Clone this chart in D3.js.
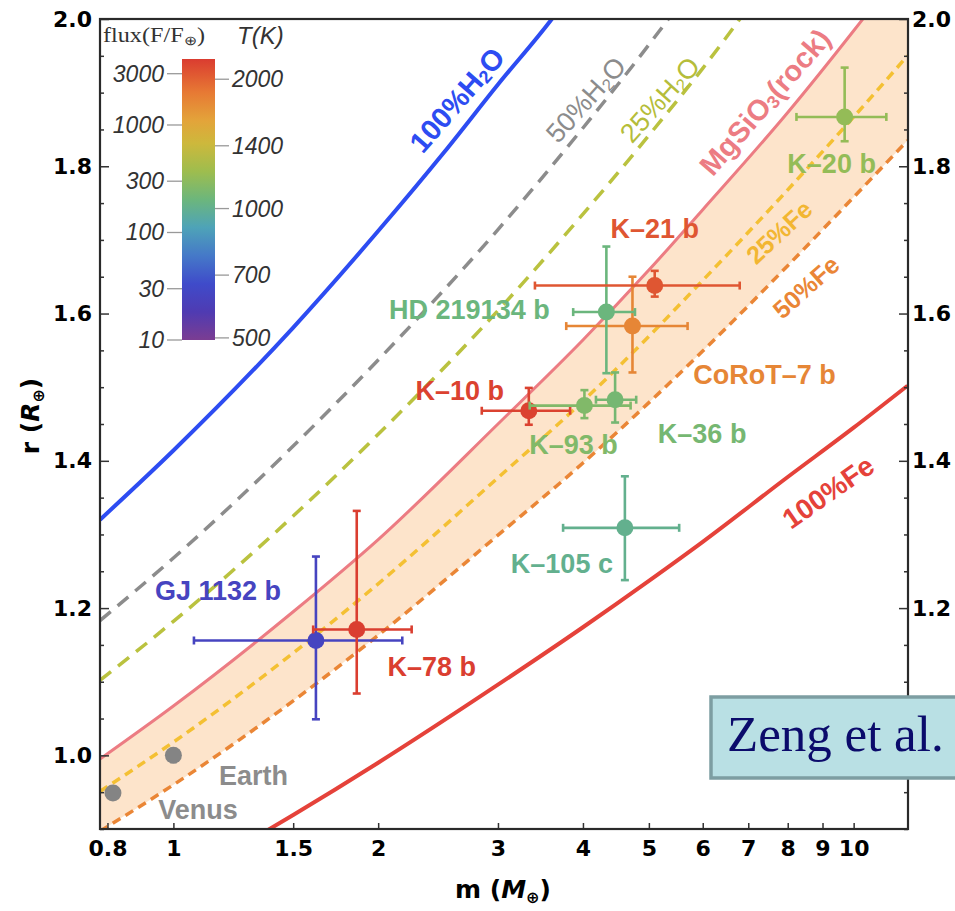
<!DOCTYPE html>
<html>
<head>
<meta charset="utf-8">
<script src="https://cdn.jsdelivr.net/npm/d3@7"></script>
<style>
  body { margin: 0; background: #fff; }
  svg { display: block; }
</style>
</head>
<body>
<div id="chart"></div>
<script>
// ---- values ----

// axis ticks
const massTicks = [0.8, 1, 1.5, 2, 3, 4, 5, 6, 7, 8, 9, 10];
const radiusTicks = [1.0, 1.2, 1.4, 1.6, 1.8, 2.0];

// model curves (mass in Earth masses, radius in Earth radii)
const gridMass = [0.78, 1, 1.5, 2, 3, 4, 5, 6, 8, 10, 12];
const rockR  = [0.995, 1.067, 1.195, 1.293, 1.450, 1.564, 1.659, 1.741, 1.873, 1.984, 2.079];
const fe25R  = [0.951, 1.018, 1.139, 1.233, 1.377, 1.481, 1.569, 1.645, 1.768, 1.867, 1.950];
const fe50R  = [0.897, 0.960, 1.074, 1.163, 1.299, 1.397, 1.479, 1.549, 1.665, 1.758, 1.835];
const fe100Mass = [1.3, 1.5, 2, 3, 4, 5, 6, 8, 10, 12];
const fe100R    = [0.885, 0.919, 0.990, 1.096, 1.174, 1.237, 1.290, 1.378, 1.445, 1.502];
const h2o100Mass = [0.78, 1, 1.5, 2, 2.5, 3, 3.6, 4];
const h2o100R    = [1.320, 1.414, 1.581, 1.712, 1.819, 1.911, 2.000, 2.058];
const h2o50Mass = [0.78, 1, 1.5, 2, 3, 4, 5, 6];
const h2o50R    = [1.183, 1.268, 1.420, 1.537, 1.714, 1.852, 1.965, 2.063];
const h2o25Mass = [0.78, 1, 1.5, 2, 3, 4, 5, 6, 8];
const h2o25R    = [1.102, 1.182, 1.325, 1.436, 1.604, 1.735, 1.842, 1.933, 2.090];

// exoplanets
const planetNames  = ["K\u201310 b", "K\u201393 b", "K\u201336 b", "CoRoT\u20137 b", "HD 219134 b",
                      "K\u201321 b", "K\u201320 b", "K\u2013105 c", "GJ 1132 b", "K\u201378 b"];
const planetMass   = [3.33, 4.02, 4.46, 4.73, 4.33, 5.10, 9.70, 4.61, 1.62, 1.86];
const planetMassLo = [2.84, 3.34, 4.18, 3.78, 3.87, 3.40, 8.24, 3.74, 1.072, 1.605];
const planetMassHi = [3.83, 4.70, 4.79, 5.70, 4.77, 6.80, 11.17, 5.54, 2.17, 2.24];
const planetRad    = [1.468, 1.475, 1.483, 1.583, 1.602, 1.638, 1.867, 1.309, 1.156, 1.171];
const planetRadLo  = [1.449, 1.458, 1.452, 1.520, 1.519, 1.623, 1.834, 1.238, 1.049, 1.084];
const planetRadHi  = [1.499, 1.496, 1.520, 1.650, 1.691, 1.658, 1.934, 1.379, 1.270, 1.332];
const planetFlux   = [3850, 260, 230, 1670, 200, 3040, 330, 170, 26, 4000];

// solar system
const solarNames = ["Earth", "Venus"];
const solarMass  = [1.0, 0.815];
const solarRad   = [1.0, 0.949];

// colour bar
const fluxTicks = [10, 30, 100, 300, 1000, 3000];
const tempTicks = [500, 700, 1000, 1400, 2000];
const barStops  = [0, 0.10, 0.20, 0.30, 0.40, 0.50, 0.60, 0.70, 0.78, 0.88, 1.0];
const barColors = ["#7b3d92", "#4f3bb2", "#3f4bca", "#4579c8", "#4ea3b8", "#6cb67c",
                   "#9ebd4e", "#cdb83c", "#e3a43a", "#e77a34", "#da3c30"];

// ---- layout ----
const W = 955, H = 911;
const plotL = 100, plotR = 908, plotT = 19, plotB = 829;

const x = d3.scaleLog().domain([0.78, 12.02]).range([plotL, plotR]);
const y = d3.scaleLinear().domain([0.9, 2.0]).range([plotB, plotT]);

const fluxPos = d3.scaleLog().domain([10, 4110]).range([340, 59]);
const tempPos = d3.scaleLog().domain([494.4, 2229]).range([340, 59]);
const fluxT = d3.scaleLog().domain([10, 4110]).range([0, 1]);
const rainbow = d3.scaleLinear().domain(barStops).range(barColors);
const fluxColor = f => rainbow(fluxT(f));

const svg = d3.select("#chart").append("svg")
  .attr("width", W).attr("height", H);

const defs = svg.append("defs");
defs.append("clipPath").attr("id", "plotClip")
  .append("rect").attr("x", plotL).attr("y", plotT)
  .attr("width", plotR - plotL).attr("height", plotB - plotT);

const plot = svg.append("g").attr("clip-path", "url(#plotClip)");

// band between rock and 50% Fe
const band = d3.area()
  .x((d, i) => x(gridMass[i]))
  .y0((d, i) => y(fe50R[i]))
  .y1((d, i) => y(rockR[i]))
  .curve(d3.curveMonotoneX);
plot.append("path").datum(gridMass).attr("d", band).attr("fill", "#fde4cb");

const line = d3.line().x(d => x(d[0])).y(d => y(d[1])).curve(d3.curveMonotoneX);

const curves = [
  { m: h2o100Mass, r: h2o100R, color: "#2d4cf2", width: 4, dash: null },
  { m: h2o50Mass, r: h2o50R, color: "#8c8c8c", width: 3.5, dash: "14,9" },
  { m: h2o25Mass, r: h2o25R, color: "#bac23f", width: 3.5, dash: "14,9" },
  { m: gridMass, r: rockR, color: "#ec7c83", width: 3, dash: null },
  { m: gridMass, r: fe25R, color: "#f4c033", width: 3.5, dash: "9,6" },
  { m: gridMass, r: fe50R, color: "#ea8636", width: 3.5, dash: "9,6" },
  { m: fe100Mass, r: fe100R, color: "#e5423a", width: 4, dash: null }
];
curves.forEach(c => {
  plot.append("path").datum(d3.zip(c.m, c.r))
    .attr("d", line)
    .attr("fill", "none")
    .attr("stroke", c.color)
    .attr("stroke-width", c.width)
    .attr("stroke-dasharray", c.dash);
});

// curve labels
function rotLabel(cx, cy, angle, parts, color, size, weight) {
  const t = svg.append("text")
    .attr("transform", `translate(${cx},${cy}) rotate(${angle})`)
    .attr("text-anchor", "middle")
    .attr("dominant-baseline", "central")
    .attr("font-family", "Liberation Sans, Arial, sans-serif")
    .attr("font-size", size)
    .attr("font-weight", weight)
    .attr("fill", color);
  let shifted = false;
  parts.forEach(p => {
    const ts = t.append("tspan").text(p.s);
    if (p.sub) {
      ts.attr("font-size", size * 0.62).attr("dy", size * 0.22);
      shifted = true;
    } else if (shifted) {
      ts.attr("dy", -size * 0.22);
      shifted = false;
    }
  });
}
rotLabel(457, 100, -49, [{ s: "100%H" }, { s: "2", sub: true }, { s: "O" }], "#2d4cf2", 29, "bold");
rotLabel(586, 100, -48, [{ s: "50%H" }, { s: "2", sub: true }, { s: "O" }], "#8c8c8c", 27, "normal");
rotLabel(660, 100, -48, [{ s: "25%H" }, { s: "2", sub: true }, { s: "O" }], "#b5bd3a", 27, "normal");
rotLabel(765, 102, -49, [{ s: "MgSiO" }, { s: "3", sub: true }, { s: "(rock)" }], "#ec7c83", 29, "bold");
rotLabel(779, 232, -43, [{ s: "25%Fe" }], "#f2b632", 25, "bold");
rotLabel(806, 287, -42, [{ s: "50%Fe" }], "#ea8636", 25, "bold");
rotLabel(828, 492, -35, [{ s: "100%Fe" }], "#e5423a", 28, "bold");

// planets
const labelOffset = [[-69, -20], [-11, 39], [87, 34], [132, 49], [-137, -2],
                     [0, -57], [-13, 47], [-63, 36], [-98, -49], [75, 38]];
const planets = svg.append("g");
planetNames.forEach((name, i) => {
  const col = fluxColor(planetFlux[i]);
  const px = x(planetMass[i]), py = y(planetRad[i]);
  const g = planets.append("g").attr("stroke", col).attr("stroke-width", 2.6).attr("fill", col);
  const x0 = x(planetMassLo[i]), x1 = x(planetMassHi[i]);
  const y0 = y(planetRadLo[i]), y1 = y(planetRadHi[i]);
  g.append("line").attr("x1", x0).attr("x2", x1).attr("y1", py).attr("y2", py);
  g.append("line").attr("x1", px).attr("x2", px).attr("y1", y0).attr("y2", y1);
  [x0, x1].forEach(v => g.append("line").attr("x1", v).attr("x2", v).attr("y1", py - 4).attr("y2", py + 4));
  [y0, y1].forEach(v => g.append("line").attr("x1", px - 4).attr("x2", px + 4).attr("y1", v).attr("y2", v));
  g.append("circle").attr("cx", px).attr("cy", py).attr("r", 8.5).attr("stroke", "none");
  svg.append("text")
    .attr("x", px + labelOffset[i][0]).attr("y", py + labelOffset[i][1])
    .attr("text-anchor", "middle").attr("dominant-baseline", "central")
    .attr("font-family", "Liberation Sans, Arial, sans-serif")
    .attr("font-size", 27).attr("font-weight", "bold")
    .attr("fill", col).text(name);
});

const solarOffset = [[80, 21], [85, 17]];
solarNames.forEach((name, i) => {
  const px = x(solarMass[i]), py = y(solarRad[i]);
  svg.append("circle").attr("cx", px).attr("cy", py).attr("r", 8.5).attr("fill", "#848484");
  svg.append("text")
    .attr("x", px + solarOffset[i][0]).attr("y", py + solarOffset[i][1])
    .attr("text-anchor", "middle").attr("dominant-baseline", "central")
    .attr("font-family", "Liberation Sans, Arial, sans-serif")
    .attr("font-size", 27).attr("font-weight", "bold")
    .attr("fill", "#8c8c8c").text(name);
});

// ---- axes & frame ----
const minorTicks = d3.range(18, 41).map(k => +(k * 0.05).toFixed(2))
  .filter(v => !radiusTicks.includes(v));

function styleAxis(g) {
  g.select(".domain").remove();
  g.selectAll("line").attr("stroke", "#333").attr("stroke-width", 1.5);
  g.selectAll("text")
    .attr("font-family", "DejaVu Sans, sans-serif")
    .attr("font-weight", "bold")
    .attr("font-size", 22)
    .attr("fill", "#000");
}

svg.append("g").attr("transform", `translate(0,${plotB})`)
  .call(d3.axisBottom(x).tickValues(massTicks).tickSizeInner(-6).tickSizeOuter(0)
    .tickPadding(11).tickFormat(d => String(d)))
  .call(styleAxis);

svg.append("g").attr("transform", `translate(${plotL},0)`)
  .call(d3.axisLeft(y).tickValues(radiusTicks).tickSizeInner(-9).tickSizeOuter(0)
    .tickPadding(8).tickFormat(d3.format(".1f")))
  .call(styleAxis);
svg.append("g").attr("transform", `translate(${plotL},0)`)
  .call(d3.axisLeft(y).tickValues(minorTicks).tickSizeInner(-4).tickSizeOuter(0).tickFormat(""))
  .call(styleAxis);

// right side: the 1.0 label sits under the citation box, so it gets a tick only
svg.append("g").attr("transform", `translate(${plotR},0)`)
  .call(d3.axisRight(y).tickValues(radiusTicks).tickSizeInner(-9).tickSizeOuter(0)
    .tickPadding(4).tickFormat(d => d < 1.1 ? "" : d3.format(".1f")(d)))
  .call(styleAxis);
svg.append("g").attr("transform", `translate(${plotR},0)`)
  .call(d3.axisRight(y).tickValues(minorTicks).tickSizeInner(-4).tickSizeOuter(0).tickFormat(""))
  .call(styleAxis);

svg.append("rect")
  .attr("x", plotL).attr("y", plotT)
  .attr("width", plotR - plotL).attr("height", plotB - plotT)
  .attr("fill", "none").attr("stroke", "#2a2a2a").attr("stroke-width", 2.2);

// axis titles
const xt = svg.append("text").attr("x", 503).attr("y", 898)
  .attr("text-anchor", "middle")
  .attr("font-family", "DejaVu Sans, sans-serif").attr("font-weight", "bold")
  .attr("font-size", 25).attr("fill", "#000");
xt.append("tspan").text("m (");
xt.append("tspan").attr("font-style", "italic").text("M");
xt.append("tspan").attr("font-size", 16).attr("dy", 5).text("\u2295");
xt.append("tspan").attr("dy", -5).text(")");

const yt = svg.append("text").attr("transform", "translate(39,416) rotate(-90)")
  .attr("text-anchor", "middle")
  .attr("font-family", "DejaVu Sans, sans-serif").attr("font-weight", "bold")
  .attr("font-size", 25).attr("fill", "#000");
yt.append("tspan").text("r (");
yt.append("tspan").attr("font-style", "italic").text("R");
yt.append("tspan").attr("font-size", 16).attr("dy", 5).text("\u2295");
yt.append("tspan").attr("dy", -5).text(")");

// ---- colour bar legend ----
const grad = defs.append("linearGradient").attr("id", "fluxGrad")
  .attr("x1", 0).attr("y1", 1).attr("x2", 0).attr("y2", 0);
barStops.forEach((s, i) => grad.append("stop").attr("offset", s).attr("stop-color", barColors[i]));

const leg = svg.append("g");
leg.append("rect").attr("x", 182).attr("y", fluxPos(4110))
  .attr("width", 33).attr("height", fluxPos(10) - fluxPos(4110))
  .attr("fill", "url(#fluxGrad)");

fluxTicks.forEach(f => {
  leg.append("line").attr("x1", 167).attr("x2", 182)
    .attr("y1", fluxPos(f)).attr("y2", fluxPos(f))
    .attr("stroke", "#999").attr("stroke-width", 1.3);
  leg.append("text").attr("x", 164).attr("y", fluxPos(f))
    .attr("text-anchor", "end").attr("dominant-baseline", "central")
    .attr("font-family", "Liberation Sans, Arial, sans-serif").attr("font-style", "italic")
    .attr("font-size", 23).attr("fill", "#333").text(f);
});
tempTicks.forEach(t => {
  leg.append("line").attr("x1", 215).attr("x2", 229)
    .attr("y1", tempPos(t)).attr("y2", tempPos(t))
    .attr("stroke", "#999").attr("stroke-width", 1.3);
  leg.append("text").attr("x", 232).attr("y", tempPos(t))
    .attr("dominant-baseline", "central")
    .attr("font-family", "Liberation Sans, Arial, sans-serif").attr("font-style", "italic")
    .attr("font-size", 23).attr("fill", "#333").text(t);
});

const fl = leg.append("text").attr("x", 103).attr("y", 42)
  .attr("font-family", "Liberation Serif, Times New Roman, serif")
  .attr("font-size", 20).attr("fill", "#333")
  .attr("textLength", 102).attr("lengthAdjust", "spacingAndGlyphs");
fl.append("tspan").text("flux(F/F");
fl.append("tspan").attr("font-size", 13).attr("dy", 3).text("\u2295");
fl.append("tspan").attr("dy", -3).text(")");

leg.append("text").attr("x", 237).attr("y", 44)
  .attr("font-family", "Liberation Sans, Arial, sans-serif").attr("font-style", "italic")
  .attr("font-size", 24).attr("fill", "#333").text("T(K)");

// ---- citation box ----
svg.append("rect").attr("x", 711).attr("y", 697).attr("width", 262).attr("height", 81)
  .attr("fill", "#b9e0e4").attr("stroke", "#7d9ea2").attr("stroke-width", 3.5);
svg.append("text").attr("x", 727).attr("y", 751)
  .attr("font-family", "Liberation Serif, Times New Roman, serif")
  .attr("font-size", 51).attr("fill", "#0b0b6b").text("Zeng et al.");
</script>
</body>
</html>
